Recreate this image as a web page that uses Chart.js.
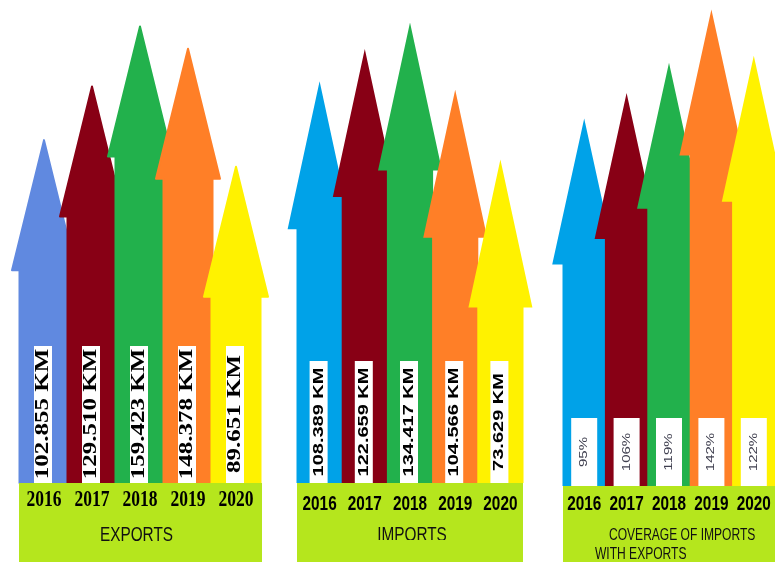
<!DOCTYPE html>
<html><head><meta charset="utf-8">
<script src="https://cdn.jsdelivr.net/npm/chart.js@4/dist/chart.umd.min.js"></script>
<style>
html,body{margin:0;padding:0;background:#fff;width:775px;height:562px;overflow:hidden}
.wrap{position:absolute;left:0;top:0;width:775px;height:562px}
canvas{position:absolute;left:0;top:0}
</style></head><body>
<div class="wrap"><canvas id="c1"></canvas></div>
<div class="wrap"><canvas id="c2"></canvas></div>
<div class="wrap"><canvas id="c3"></canvas></div>
<script>
// ---- data ----
const years = ['2016', '2017', '2018', '2019', '2020'];
const exportsValues = [102.855, 129.510, 159.423, 148.378, 89.651];
const importsValues = [108.389, 122.659, 134.417, 104.566, 73.629];
const coverageValues = [95, 106, 119, 142, 122];
const exportsTitle = ['EXPORTS'];
const importsTitle = ['IMPORTS'];
const coverageTitle = ['COVERAGE OF IMPORTS', 'WITH EXPORTS'];
const exportsLabels = exportsValues.map(v => v.toFixed(3) + ' KM');
const importsLabels = importsValues.map(v => v.toFixed(3) + ' KM');
const coverageLabels = coverageValues.map(v => v + '%');

// ---- styles ----
const exportColors = ['#6089e0', '#880015', '#22b14c', '#ff7f27', '#fff200'];
const arrowColors = ['#00a2e8', '#880015', '#22b14c', '#ff7f27', '#fff200'];
const LIME = '#b5e61d';
const SQ = 0.73; // horizontal squeeze of all lettering

function squeezedText(ctx, text, x, y, font, color, align, rotate) {
  ctx.save();
  ctx.translate(x, y);
  ctx.scale(SQ, 1);
  if (rotate) ctx.rotate(-Math.PI / 2);
  ctx.font = font;
  ctx.fillStyle = color;
  ctx.textAlign = align || 'center';
  ctx.textBaseline = rotate ? 'middle' : 'alphabetic';
  ctx.fillText(text, 0, 0);
  ctx.restore();
}

function makeArrowPlugin(p) {
  return {
    id: 'arrows',
    afterDatasetsDraw(chart) {
      const ctx = chart.ctx;
      const meta = chart.getDatasetMeta(0);
      ctx.save();
      meta.data.forEach((el, i) => {
        const {x, y, base, width} = el.getProps(['x', 'y', 'base', 'width'], true);
        const hb = y + p.headH;
        const hw = width / 2 + 0.5;
        ctx.beginPath();
        ctx.moveTo(x, y);
        ctx.lineTo(x + p.headHalf, hb);
        ctx.lineTo(x + hw, hb);
        ctx.lineTo(x + hw, base);
        ctx.lineTo(x - hw, base);
        ctx.lineTo(x - hw, hb);
        ctx.lineTo(x - p.headHalf, hb);
        ctx.closePath();
        ctx.fillStyle = p.colors[i];
        ctx.fill();
        if (p.round) {
          ctx.strokeStyle = p.colors[i];
          ctx.lineWidth = 2;
          ctx.lineJoin = 'round';
          ctx.stroke();
        }
      });
      // value labels
      meta.data.forEach((el, i) => {
        const x = el.x + p.lab.xOff;
        ctx.fillStyle = '#ffffff';
        ctx.fillRect(x - p.lab.w / 2, p.lab.top, p.lab.w, p.lab.bottom - p.lab.top);
        squeezedText(ctx, p.labels[i], x, p.lab.cy, p.lab.font, p.lab.color, 'center', true);
      });
      // green base box
      ctx.fillStyle = LIME;
      ctx.fillRect(p.box.x, p.box.y, p.box.w, 562 - p.box.y);
      // year labels
      meta.data.forEach((el, i) => {
        squeezedText(ctx, chart.data.labels[i], el.x, p.yearY, p.yearFont, '#000', 'center', false);
      });
      // titles
      if (p.clipTitle) {
        ctx.save();
        ctx.beginPath();
        ctx.rect(0, 0, 775, p.clipTitle);
        ctx.clip();
      }
      p.title.forEach((t, k) => {
        squeezedText(ctx, t, p.titlePos[k][0], p.titlePos[k][1], p.titleFont, '#111', p.titleAlign, false);
      });
      if (p.clipTitle) ctx.restore();
      ctx.restore();
    }
  };
}

function makeChart(id, values, p) {
  return new Chart(document.getElementById(id), {
    type: 'bar',
    data: {
      labels: years,
      datasets: [{
        data: values,
        base: p.yMin,
        backgroundColor: 'rgba(0,0,0,0)',
        borderWidth: 0,
        barPercentage: 1,
        categoryPercentage: 1
      }]
    },
    options: {
      responsive: true,
      maintainAspectRatio: false,
      animation: false,
      events: [],
      layout: {padding: {left: p.left, right: 775 - p.right, top: 0, bottom: 562 - p.bottom}},
      scales: {
        x: {display: false},
        y: {display: false, min: p.yMin, max: p.yMax}
      },
      plugins: {legend: {display: false}, tooltip: {enabled: false}}
    },
    plugins: [makeArrowPlugin(p)]
  });
}

makeChart('c1', exportsValues, {
  left: 20, right: 260, bottom: 483, yMin: -67.8, yMax: 172.6,
  colors: exportColors, headHalf: 32, headH: 130, round: true,
  labels: exportsLabels,
  lab: {xOff: -1, w: 18, top: 346, bottom: 483, cy: 414, font: 'bold 25px "Liberation Serif"', color: '#000'},
  box: {x: 19, y: 483, w: 243},
  yearY: 506, yearFont: 'bold 24px "Liberation Serif"',
  title: exportsTitle, titlePos: [[136.5, 541]], titleFont: '21px "Liberation Sans"', titleAlign: 'center'
});

makeChart('c2', importsValues, {
  left: 297, right: 523, bottom: 483, yMin: -69.9, yMax: 144.4,
  colors: arrowColors, headHalf: 32, headH: 148, round: false,
  labels: importsLabels,
  lab: {xOff: -1, w: 18, top: 361, bottom: 483, cy: 422, font: 'bold 20px "Liberation Sans"', color: '#000'},
  box: {x: 297, y: 483, w: 226},
  yearY: 510, yearFont: 'bold 21px "Liberation Sans"',
  title: importsTitle, titlePos: [[412, 541]], titleFont: '21px "Liberation Sans"', titleAlign: 'center',
  clipTitle: 540
});

makeChart('c3', coverageValues, {
  left: 563, right: 775, bottom: 486, yMin: -63.6, yMax: 146.1,
  colors: arrowColors, headHalf: 32, headH: 146, round: false,
  labels: coverageLabels,
  lab: {xOff: 0, w: 26, top: 418, bottom: 486, cy: 452, font: '15px "Liberation Sans"', color: '#404050'},
  box: {x: 563, y: 486, w: 212},
  yearY: 510, yearFont: 'bold 21px "Liberation Sans"',
  title: coverageTitle, titlePos: [[609, 540], [595, 559]], titleFont: '16.5px "Liberation Sans"', titleAlign: 'left'
});
</script>
</body></html>
